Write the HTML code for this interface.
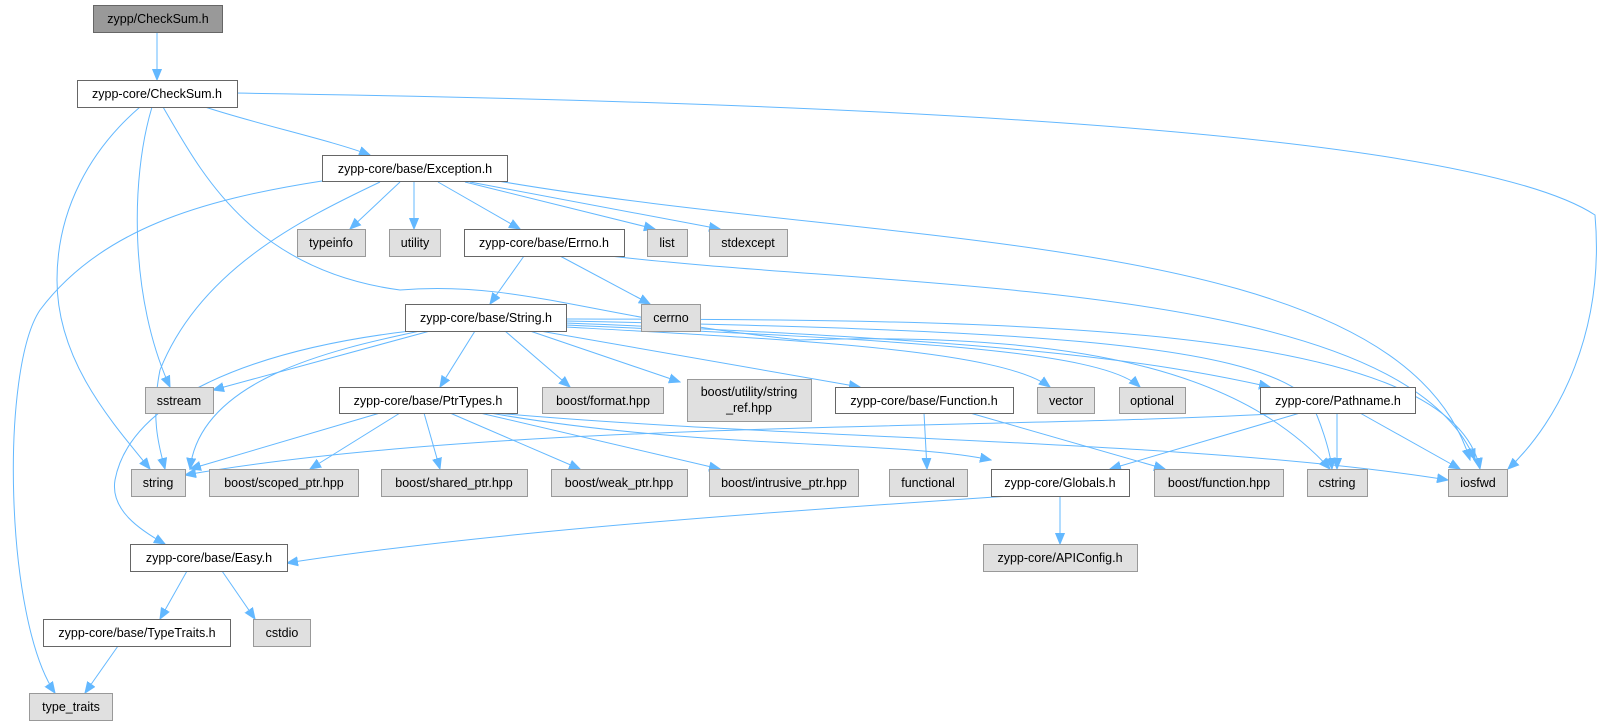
<!DOCTYPE html>
<html><head><meta charset="utf-8"><style>
html,body{margin:0;padding:0;background:#fff;}
svg{display:block;}
text{font-family:"Liberation Sans",Arial,sans-serif;font-size:12.5px;fill:#000;}
.w{fill:#fff;stroke:#666;stroke-width:1;}
.g{fill:#e0e0e0;stroke:#999;stroke-width:1;}
.d{fill:#999;stroke:#666;stroke-width:1;}
.e{fill:none;stroke:#63b8ff;stroke-width:1;marker-end:url(#a);}
</style></head><body>
<svg width="1609" height="725" viewBox="0 0 1609 725" xmlns="http://www.w3.org/2000/svg">
<defs><marker id="a" markerUnits="userSpaceOnUse" markerWidth="12" markerHeight="10" refX="11" refY="5" orient="auto"><path d="M0,0.5 L11,5 L0,9.5 z" fill="#63b8ff" stroke="#63b8ff"/></marker></defs>
<g>
<path class="e" d="M157,32 L157,80"/>
<path class="e" d="M205,107 C260,125 330,140 370,155"/>
<path class="e" d="M233,93 C700,100 1450,120 1595,215 C1605,330 1560,420 1508,469"/>
<path class="e" d="M152,107 C130,180 130,300 170,387"/>
<path class="e" d="M140,107 C90,150 57,210 57,280 C57,360 110,420 150,469"/>
<path class="e" d="M163,107 C200,170 250,270 400,290 C520,280 600,320 800,340 C1100,330 1250,380 1330,469"/>
<path class="e" d="M322,181 C200,200 100,230 40,310 C0,370 5,620 55,693"/>
<path class="e" d="M380,182 C300,220 200,270 160,370 C150,420 160,450 165,469"/>
<path class="e" d="M400,182 L350,229"/>
<path class="e" d="M414,182 L414,229"/>
<path class="e" d="M438,182 L520,229"/>
<path class="e" d="M465,182 L655,229"/>
<path class="e" d="M470,182 L720,229"/>
<path class="e" d="M498,181 C900,250 1400,230 1470,460"/>
<path class="e" d="M524,256 L490,304"/>
<path class="e" d="M560,256 L650,304"/>
<path class="e" d="M610,256 C900,290 1400,280 1475,460"/>
<path class="e" d="M430,331 L213,390"/>
<path class="e" d="M420,331 C330,350 200,380 190,469"/>
<path class="e" d="M410,331 C250,350 130,400 115,480 C110,510 140,530 165,544"/>
<path class="e" d="M475,331 L440,387"/>
<path class="e" d="M505,331 L570,387"/>
<path class="e" d="M530,331 L680,382"/>
<path class="e" d="M540,331 L860,387"/>
<path class="e" d="M566,327 C800,340 1000,350 1050,387"/>
<path class="e" d="M566,325 C900,340 1100,350 1140,387"/>
<path class="e" d="M566,323 C1000,340 1150,360 1270,387"/>
<path class="e" d="M566,321 C1000,330 1250,340 1310,400 C1320,420 1330,450 1332,469"/>
<path class="e" d="M566,319 C1000,320 1450,320 1480,469"/>
<path class="e" d="M380,413 L190,469"/>
<path class="e" d="M400,413 L310,469"/>
<path class="e" d="M424,413 L440,469"/>
<path class="e" d="M450,413 L580,469"/>
<path class="e" d="M480,413 L720,469"/>
<path class="e" d="M490,413 C700,450 900,440 991,460"/>
<path class="e" d="M495,413 C800,440 1200,440 1448,480"/>
<path class="e" d="M924,413 L927,469"/>
<path class="e" d="M970,413 L1165,469"/>
<path class="e" d="M1290,413 C1000,430 500,420 185,475"/>
<path class="e" d="M1300,413 L1110,469"/>
<path class="e" d="M1337,413 L1337,469"/>
<path class="e" d="M1360,413 L1460,469"/>
<path class="e" d="M1010,496 C800,510 500,530 287,563"/>
<path class="e" d="M1060,496 L1060,544"/>
<path class="e" d="M187,571 L160,619"/>
<path class="e" d="M222,571 L255,619"/>
<path class="e" d="M118,646 L85,693"/>
</g>
<g>
<rect class="d" x="93.5" y="5.5" width="129" height="27"/><text x="158" y="23" text-anchor="middle">zypp/CheckSum.h</text>
<rect class="w" x="77.5" y="80.5" width="160" height="27"/><text x="157" y="98" text-anchor="middle">zypp-core/CheckSum.h</text>
<rect class="w" x="322.5" y="155.5" width="185" height="26"/><text x="415" y="173" text-anchor="middle">zypp-core/base/Exception.h</text>
<rect class="g" x="297.5" y="229.5" width="68" height="27"/><text x="331" y="247" text-anchor="middle">typeinfo</text>
<rect class="g" x="389.5" y="229.5" width="51" height="27"/><text x="415" y="247" text-anchor="middle">utility</text>
<rect class="w" x="464.5" y="229.5" width="160" height="27"/><text x="544" y="247" text-anchor="middle">zypp-core/base/Errno.h</text>
<rect class="g" x="647.5" y="229.5" width="40" height="27"/><text x="667" y="247" text-anchor="middle">list</text>
<rect class="g" x="709.5" y="229.5" width="78" height="27"/><text x="748" y="247" text-anchor="middle">stdexcept</text>
<rect class="w" x="405.5" y="304.5" width="161" height="27"/><text x="486" y="322" text-anchor="middle">zypp-core/base/String.h</text>
<rect class="g" x="641.5" y="304.5" width="59" height="27"/><text x="671" y="322" text-anchor="middle">cerrno</text>
<rect class="g" x="145.5" y="387.5" width="68" height="26"/><text x="179" y="405" text-anchor="middle">sstream</text>
<rect class="w" x="339.5" y="387.5" width="178" height="26"/><text x="428" y="405" text-anchor="middle">zypp-core/base/PtrTypes.h</text>
<rect class="g" x="542.5" y="387.5" width="121" height="26"/><text x="603" y="405" text-anchor="middle">boost/format.hpp</text>
<rect class="g" x="687.5" y="379.5" width="124" height="42"/><text x="749" y="396" text-anchor="middle">boost/utility/string</text><text x="749" y="412" text-anchor="middle">_ref.hpp</text>
<rect class="w" x="835.5" y="387.5" width="178" height="26"/><text x="924" y="405" text-anchor="middle">zypp-core/base/Function.h</text>
<rect class="g" x="1037.5" y="387.5" width="57" height="26"/><text x="1066" y="405" text-anchor="middle">vector</text>
<rect class="g" x="1119.5" y="387.5" width="66" height="26"/><text x="1152" y="405" text-anchor="middle">optional</text>
<rect class="w" x="1260.5" y="387.5" width="155" height="26"/><text x="1338" y="405" text-anchor="middle">zypp-core/Pathname.h</text>
<rect class="g" x="131.5" y="469.5" width="54" height="27"/><text x="158" y="487" text-anchor="middle">string</text>
<rect class="g" x="209.5" y="469.5" width="149" height="27"/><text x="284" y="487" text-anchor="middle">boost/scoped_ptr.hpp</text>
<rect class="g" x="381.5" y="469.5" width="146" height="27"/><text x="454" y="487" text-anchor="middle">boost/shared_ptr.hpp</text>
<rect class="g" x="551.5" y="469.5" width="136" height="27"/><text x="619" y="487" text-anchor="middle">boost/weak_ptr.hpp</text>
<rect class="g" x="709.5" y="469.5" width="149" height="27"/><text x="784" y="487" text-anchor="middle">boost/intrusive_ptr.hpp</text>
<rect class="g" x="889.5" y="469.5" width="78" height="27"/><text x="928" y="487" text-anchor="middle">functional</text>
<rect class="w" x="991.5" y="469.5" width="138" height="27"/><text x="1060" y="487" text-anchor="middle">zypp-core/Globals.h</text>
<rect class="g" x="1154.5" y="469.5" width="129" height="27"/><text x="1219" y="487" text-anchor="middle">boost/function.hpp</text>
<rect class="g" x="1307.5" y="469.5" width="60" height="27"/><text x="1337" y="487" text-anchor="middle">cstring</text>
<rect class="g" x="1448.5" y="469.5" width="59" height="27"/><text x="1478" y="487" text-anchor="middle">iosfwd</text>
<rect class="w" x="130.5" y="544.5" width="157" height="27"/><text x="209" y="562" text-anchor="middle">zypp-core/base/Easy.h</text>
<rect class="g" x="983.5" y="544.5" width="154" height="27"/><text x="1060" y="562" text-anchor="middle">zypp-core/APIConfig.h</text>
<rect class="w" x="43.5" y="619.5" width="187" height="27"/><text x="137" y="637" text-anchor="middle">zypp-core/base/TypeTraits.h</text>
<rect class="g" x="253.5" y="619.5" width="57" height="27"/><text x="282" y="637" text-anchor="middle">cstdio</text>
<rect class="g" x="29.5" y="693.5" width="83" height="27"/><text x="71" y="711" text-anchor="middle">type_traits</text>
</g>
</svg>
</body></html>
